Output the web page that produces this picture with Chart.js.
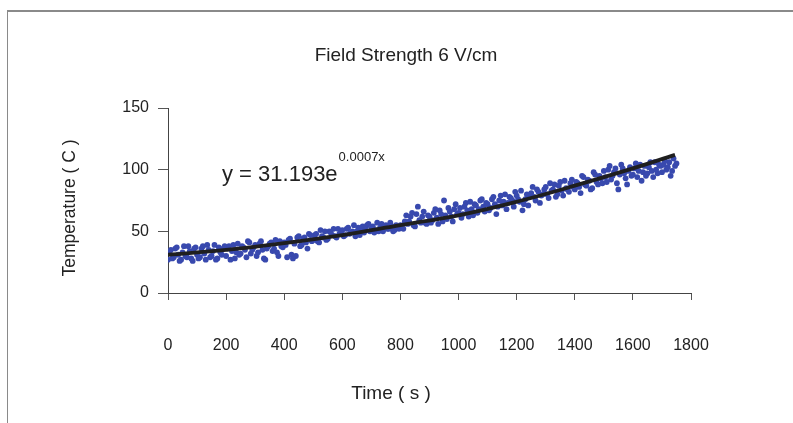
<!DOCTYPE html>
<html>
<head>
<meta charset="utf-8">
<script src="https://cdn.jsdelivr.net/npm/chart.js@4"></script>
<style>
  body { margin: 0; background: #fff; }
  .wrap { position: relative; width: 793px; height: 423px; }
  .frame { position: absolute; left: 7px; top: 10px; right: -2px; bottom: -2px; border-left: 1px solid #8a8a8a; border-top: 2px solid #8a8a8a; }
  canvas { position: absolute; left: 0; top: 0; }
</style>
</head>
<body>
<div class="wrap">
  <div class="frame"></div>
  <canvas id="chart" width="793" height="423"></canvas>
</div>
<script>
// measured temperature samples (two interleaved runs of readings)
var times = [0, 10, 20, 30, 40, 50, 60, 70, 80, 90,
  100, 110, 120, 130, 140, 150, 160, 170, 180, 190,
  200, 210, 220, 230, 240, 250, 260, 270, 280, 290,
  300, 310, 320, 330, 340, 350, 360, 370, 380, 390,
  400, 410, 420, 430, 440, 450, 460, 470, 480, 490,
  500, 510, 520, 530, 540, 550, 560, 570, 580, 590,
  600, 610, 620, 630, 640, 650, 660, 670, 680, 690,
  700, 710, 720, 730, 740, 750, 760, 770, 780, 790,
  800, 810, 820, 830, 840, 850, 860, 870, 880, 890,
  900, 910, 920, 930, 940, 950, 960, 970, 980, 990,
  1000, 1010, 1020, 1030, 1040, 1050, 1060, 1070, 1080, 1090,
  1100, 1110, 1120, 1130, 1140, 1150, 1160, 1170, 1180, 1190,
  1200, 1210, 1220, 1230, 1240, 1250, 1260, 1270, 1280, 1290,
  1300, 1310, 1320, 1330, 1340, 1350, 1360, 1370, 1380, 1390,
  1400, 1410, 1420, 1430, 1440, 1450, 1460, 1470, 1480, 1490,
  1500, 1510, 1520, 1530, 1540, 1550, 1560, 1570, 1580, 1590,
  1600, 1610, 1620, 1630, 1640, 1650, 1660, 1670, 1680, 1690,
  1700, 1710, 1720, 1730, 1740, 1750];
var temps = [27, 35, 29, 37, 26, 33, 30, 38, 28, 36,
  31, 29, 38, 27, 35, 30, 39, 28, 33, 36,
  30, 38, 34, 28, 40, 32, 37, 29, 41, 35,
  39, 33, 42, 28, 36, 40, 34, 43, 30, 38,
  41, 29, 44, 28, 30, 46, 39, 45, 36, 47,
  43, 48, 41, 46, 50, 44, 49, 52, 45, 48,
  51, 47, 53, 49, 55, 50, 47, 54, 51, 56,
  52, 49, 57, 53, 50, 55, 52, 54, 51, 53,
  55, 52, 63, 58, 65, 54, 70, 57, 66, 56,
  62, 59, 68, 56, 64, 75, 60, 66, 58, 72,
  65, 61, 70, 67, 74, 63, 71, 68, 76, 66,
  72, 69, 78, 64, 75, 71, 80, 73, 77, 70,
  79, 74, 67, 76, 71, 81, 78, 84, 73, 80,
  86, 77, 83, 88, 80, 90, 79, 85, 82, 92,
  84, 89, 81, 94, 87, 91, 85, 96, 88, 93,
  99, 90, 103, 95, 101, 84, 104, 97, 88, 102,
  96, 105, 99, 91, 103, 97, 106, 94, 100, 104,
  98, 107, 102, 95, 109, 105];

var midTimes = [5, 15, 25, 35, 45, 55, 65, 75, 85, 95,
  105, 115, 125, 135, 145, 155, 165, 175, 185, 195,
  205, 215, 225, 235, 245, 255, 265, 275, 285, 295,
  305, 315, 325, 335, 345, 355, 365, 375, 385, 395,
  405, 415, 425, 435, 445, 455, 465, 475, 485, 495,
  505, 515, 525, 535, 545, 555, 565, 575, 585, 595,
  605, 615, 625, 635, 645, 655, 665, 675, 685, 695,
  705, 715, 725, 735, 745, 755, 765, 775, 785, 795,
  805, 815, 825, 835, 845, 855, 865, 875, 885, 895,
  905, 915, 925, 935, 945, 955, 965, 975, 985, 995,
  1005, 1015, 1025, 1035, 1045, 1055, 1065, 1075, 1085, 1095,
  1105, 1115, 1125, 1135, 1145, 1155, 1165, 1175, 1185, 1195,
  1205, 1215, 1225, 1235, 1245, 1255, 1265, 1275, 1285, 1295,
  1305, 1315, 1325, 1335, 1345, 1355, 1365, 1375, 1385, 1395,
  1405, 1415, 1425, 1435, 1445, 1455, 1465, 1475, 1485, 1495,
  1505, 1515, 1525, 1535, 1545, 1555, 1565, 1575, 1585, 1595,
  1605, 1615, 1625, 1635, 1645, 1655, 1665, 1675, 1685, 1695,
  1705, 1715, 1725, 1735, 1745];
var midTemps = [33, 28, 36, 31, 27, 38, 29, 34, 26, 37,
  28, 36, 32, 39, 29, 34, 27, 37, 31, 38,
  36, 27, 39, 33, 31, 38, 35, 42, 32, 37,
  30, 40, 35, 27, 38, 41, 36, 33, 42, 37,
  39, 43, 31, 40, 45, 38, 44, 41, 48, 42,
  47, 42, 51, 45, 43, 50, 47, 46, 52, 49,
  46, 52, 48, 50, 46, 53, 51, 49, 55, 50,
  54, 51, 50, 56, 54, 52, 57, 50, 55, 52,
  53, 58, 56, 62, 55, 64, 59, 62, 57, 63,
  57, 65, 61, 67, 58, 63, 69, 62, 68, 64,
  69, 64, 73, 62, 68, 72, 65, 75, 70, 73,
  67, 76, 72, 70, 79, 74, 68, 78, 75, 82,
  76, 83, 72, 80, 78, 86, 75, 82, 79, 84,
  80, 89, 84, 78, 87, 83, 91, 84, 89, 86,
  90, 86, 95, 88, 92, 84, 98, 90, 95, 89,
  94, 100, 92, 98, 89, 96, 101, 93, 99, 95,
  101, 94, 104, 98, 95, 102, 99, 106, 97, 103,
  104, 100, 106, 99, 103];

// exponential trendline as drawn: y = 31.193e^0.0007x
var trendTimes = [0, 200, 400, 600, 800, 1000, 1200, 1400, 1600, 1745];
var trendTemps = [31, 35, 40.5, 47, 55, 63, 74, 87, 101, 112];

var xTicks = [0, 200, 400, 600, 800, 1000, 1200, 1400, 1600, 1800];
var yTicks = [0, 50, 100, 150];

var font = '"Liberation Sans", Arial, sans-serif';
var dotColor = "#3849ae";

var points = times.map((t, i) => ({ x: t, y: temps[i] }));
var midPoints = midTimes.map((t, i) => ({ x: t, y: midTemps[i] }));
var trend = trendTimes.map((t, i) => ({ x: t, y: trendTemps[i] }));

const textPlugin = {
  id: "texts",
  afterDraw(chart) {
    const c = chart.ctx;
    c.save();
    c.fillStyle = "#222";
    c.textBaseline = "middle";
    c.textAlign = "center";
    c.font = "19px " + font;
    c.fillText("Field Strength 6 V/cm", 406, 56);
    c.fillText("Time ( s )", 391, 394);
    c.font = "17.5px " + font;
    c.save();
    c.translate(70, 208);
    c.rotate(-Math.PI / 2);
    c.fillText("Temperature ( C )", 0, 0);
    c.restore();
    c.textAlign = "left";
    c.font = "22px " + font;
    const eq = "y = 31.193e";
    c.fillText(eq, 222, 175);
    const w = c.measureText(eq).width;
    c.font = "13px " + font;
    c.fillText("0.0007x", 222 + w + 1, 157);
    c.restore();
  }
};

new Chart(document.getElementById("chart"), {
  type: "scatter",
  data: {
    datasets: [
      {
        label: "trend",
        data: trend,
        showLine: true,
        borderColor: "#1f1f1f",
        borderWidth: 3.8,
        pointRadius: 0,
        tension: 0.4,
        order: 0
      },
      {
        label: "Temperature",
        data: points,
        backgroundColor: dotColor,
        pointRadius: 2.9,
        borderWidth: 0,
        order: 1
      },
      {
        label: "Temperature (b)",
        data: midPoints,
        backgroundColor: dotColor,
        pointRadius: 2.9,
        borderWidth: 0,
        order: 2
      }
    ]
  },
  options: {
    responsive: false,
    animation: false,
    layout: { padding: { top: 108, right: 102, bottom: 0, left: 0 } },
    plugins: { legend: { display: false }, tooltip: { enabled: false } },
    scales: {
      x: {
        type: "linear",
        min: 0,
        max: 1800,
        afterBuildTicks: (s) => { s.ticks = xTicks.map(v => ({ value: v })); },
        afterFit: (s) => { s.height = 130; },
        ticks: { color: "#222", font: { family: font, size: 16 }, padding: 36, maxRotation: 0, callback: (v) => String(v) },
        grid: { drawOnChartArea: false, tickLength: 7, color: "#555" },
        border: { color: "#444", width: 1 }
      },
      y: {
        min: 0,
        max: 150,
        afterBuildTicks: (s) => { s.ticks = yTicks.map(v => ({ value: v })); },
        afterFit: (s) => { s.width = 168; },
        ticks: { color: "#222", font: { family: font, size: 16 }, padding: 9, callback: (v) => String(v) },
        grid: { drawOnChartArea: false, tickLength: 10, color: "#555" },
        border: { color: "#444", width: 1 }
      }
    }
  },
  plugins: [textPlugin]
});
</script>
</body>
</html>
